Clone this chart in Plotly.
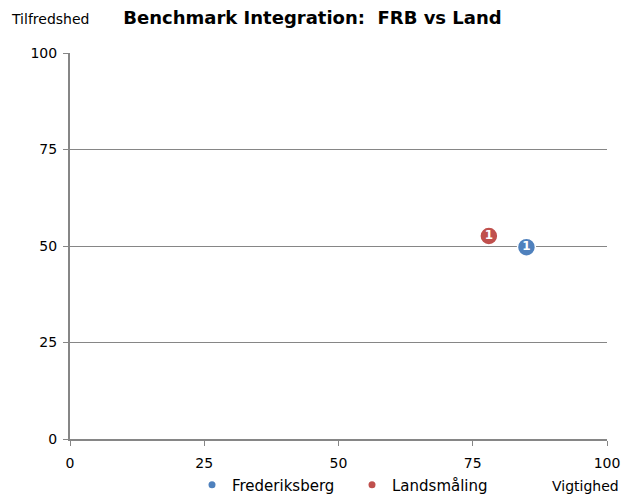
import plotly.graph_objects as go

series = ["Frederiksberg", "Landsmåling"]
vigtighed = [85, 78]
tilfredshed = [49.7, 52.6]
labels = ["1", "1"]
colors = ["#4F81BD", "#C0504D"]
ticks = [0, 25, 50, 75, 100]

font = "DejaVu Sans"
fig = go.Figure()
for name, xv, yv, lab, col in zip(series, vigtighed, tilfredshed, labels, colors):
    fig.add_trace(go.Scatter(
        x=[xv], y=[yv], name=name, mode="markers+text", showlegend=False,
        legendgroup=name,
        text=["<b>" + lab + "</b>"], textposition="middle center",
        textfont=dict(color="white", size=12, family=font),
        marker=dict(color=col, size=18, line=dict(color="white", width=1.5)),
    ))
# legend entries (small dots, as in the reference legend)
for name, col in zip(series, colors):
    fig.add_trace(go.Scatter(
        x=[None], y=[None], name=name, mode="markers", legendgroup=name,
        marker=dict(color=col, size=7),
    ))

fig.update_layout(
    width=625, height=498,
    paper_bgcolor="white", plot_bgcolor="white",
    margin=dict(l=70, r=18, t=53, b=59),
    font=dict(family=font, size=13, color="black"),
    title=dict(text="<b>Benchmark Integration:  FRB vs Land</b>",
               x=0.5, xanchor="center", y=0.964, yanchor="middle",
               font=dict(size=18, family=font)),
    showlegend=True,
    legend=dict(orientation="h", xref="container", yref="container",
                x=192 / 625, xanchor="left",
                y=1 - 485 / 498, yanchor="middle",
                font=dict(size=15, family=font),
                entrywidth=115, entrywidthmode="pixels",
                bgcolor="rgba(0,0,0,0)"),
    xaxis=dict(range=[0, 100], tickvals=ticks, showgrid=False, zeroline=False,
               showline=True, linecolor="#868686", linewidth=2,
               ticks="outside", ticklen=5, tickcolor="#868686", tickwidth=1,
               ticklabelstandoff=5, automargin=False,
               tickfont=dict(size=14)),
    yaxis=dict(range=[0, 100], tickvals=ticks, showgrid=True, gridcolor="#868686",
               gridwidth=1, zeroline=False, showline=True, linecolor="#868686",
               linewidth=2, ticks="outside", ticklen=5, tickcolor="#868686",
               tickwidth=1, ticklabelstandoff=3, automargin=False,
               tickfont=dict(size=14)),
    annotations=[
        dict(text="Tilfredshed", xref="paper", yref="paper", x=(9 - 70) / 537,
             y=(439 - 20) / 385, xanchor="left", yanchor="middle",
             showarrow=False, font=dict(size=14)),
        dict(text="Vigtighed", xref="paper", yref="paper", x=(621 - 70) / 537,
             y=(439 - 486) / 385, xanchor="right", yanchor="middle",
             showarrow=False, font=dict(size=14)),
    ],
)
fig.write_html("out.html", config={"displayModeBar": False},
               post_script="document.body.style.margin='0';")
